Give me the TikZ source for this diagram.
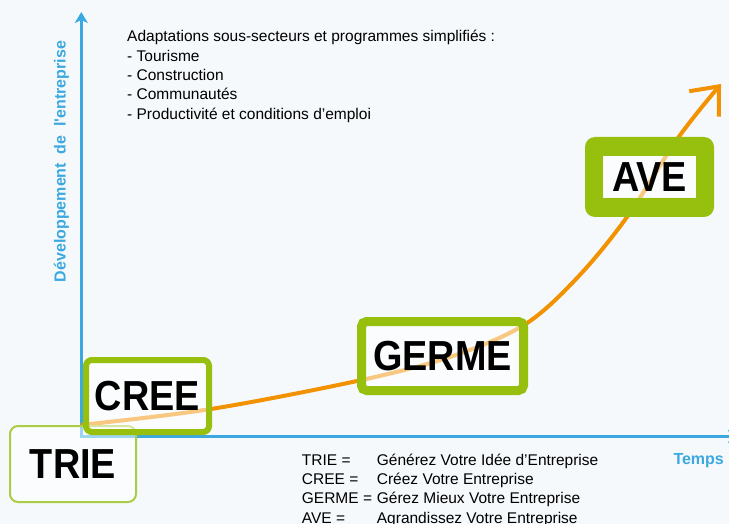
\documentclass[tikz,border=0pt]{standalone}
\usepackage{fontspec}
\setmainfont{Liberation Sans}
\newfontfamily\boxfont[FakeStretch=0.9]{Liberation Sans}
\usetikzlibrary{arrows.meta}
\definecolor{bgc}{HTML}{F5F9FC}
\definecolor{axisblue}{HTML}{3BA9DF}
\definecolor{curveorange}{HTML}{F39200}
\definecolor{boxgreen}{HTML}{97BF0D}
\definecolor{lightgreen}{HTML}{ABCD45}
\begin{document}
\begin{tikzpicture}[x=1pt,y=-1pt,
  axis/.style={axisblue, line width=3pt},
  growth/.style={curveorange, line width=4pt},
  stagebox/.style={rectangle, draw=boxgreen, fill=white, fill opacity=0.5, text opacity=1, inner sep=0pt, text=black,
    font=\boxfont\bfseries\fontsize{42}{42}\selectfont},
  bodytext/.style={font=\fontsize{15.5}{19.4}\selectfont, text=black, inner sep=0pt, align=left},
  bluelabel/.style={font=\bfseries\fontsize{16}{16}\selectfont, text=axisblue, inner sep=0pt}]
\clip (0,0) rectangle (729,524);
\fill[bgc] (0,0) rectangle (729,524);
% axes
\coordinate (ytip) at (81.3,12);
\coordinate (origin) at (81.3,436.5);
\coordinate (xtip) at (739,436.5);
\draw[axis, {Stealth[length=11pt,width=13pt,inset=3pt]}-{Stealth[length=11pt,width=13pt,inset=3pt]}] (ytip) -- (origin) -- (xtip);
% growth curve
\draw[growth, -{Straight Barb[length=23pt,width=39pt]}] plot[smooth, tension=0.55] coordinates
  {(81,425) (211,409) (357,381) (450,357) (524,325) (577,278) (627,217) (678,138) (721,84)};
% stage boxes
\node[stagebox, line width=2pt, draw=lightgreen, rounded corners=8pt, minimum width=126pt, minimum height=76pt] (TRIE) at (73,464) {TRIE};
\node[stagebox, line width=6pt, rounded corners=6pt, minimum width=123pt, minimum height=72pt] (CREE) at (147.5,396) {CREE};
\node[stagebox, line width=9pt, rounded corners=5pt, minimum width=162pt, minimum height=69pt] (GERME) at (442.5,356) {GERME};
\fill[boxgreen, even odd rule, rounded corners=10pt] (585,137) rectangle (714,217) [sharp corners] (603,156) rectangle (696,198);
\node[stagebox, draw=none, minimum width=93pt, minimum height=42pt] (AVE) at (649.5,177) {AVE};
% texts
\node[bodytext, anchor=north west] (sectors) at (127,30) {Adaptations sous-secteurs et programmes simplifiés :\\- Tourisme\\- Construction\\- Communautés\\- Productivité et conditions d’emploi};
\node[bodytext, anchor=north west] (legend) at (301.7,453.5) {\makebox[75pt][l]{TRIE =}Générez Votre Idée d’Entreprise\\\makebox[75pt][l]{CREE =}Créez Votre Entreprise\\\makebox[75pt][l]{GERME =}Gérez Mieux Votre Entreprise\\\makebox[75pt][l]{AVE =}Agrandissez Votre Entreprise};
\node[bluelabel, anchor=base west] (temps) at (673.3,464) {Temps};
\node[bluelabel, rotate=90, anchor=base] (ylabel) at (65.7,161.5) {Développement~~de~~l\textquotesingle entreprise};
\end{tikzpicture}
\end{document}
